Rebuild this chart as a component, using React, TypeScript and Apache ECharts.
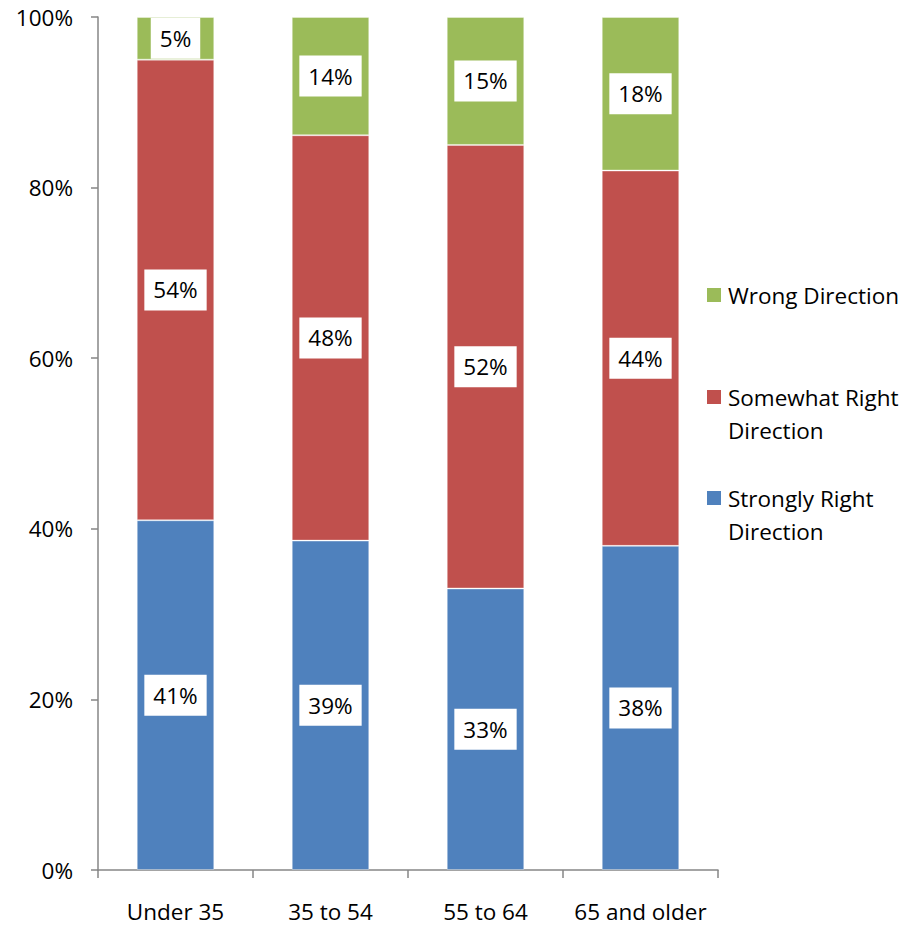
import React, { useEffect, useRef } from "react";
import * as echarts from "echarts";

const categories = ["Under 35", "35 to 54", "55 to 64", "65 and older"];
const strongly = [41, 39, 33, 38];
const somewhat = [54, 48, 52, 44];
const wrong = [5, 14, 15, 18];
const seriesNames = ["Strongly Right Direction", "Somewhat Right Direction", "Wrong Direction"];
const legendLabels = ["Strongly Right\nDirection", "Somewhat Right\nDirection", "Wrong Direction"];
const colors = ["#4F81BD", "#C0504D", "#9BBB59"];
const yTicks = { min: 0, max: 100, interval: 20 };

const FONT = "Open Sans";
const FS = 22.5;

export default function App() {
  const ref = useRef<HTMLDivElement>(null);
  useEffect(() => {
    if (!ref.current) return;
    const chart = echarts.init(ref.current, null, { renderer: "svg" });
    const raw = [strongly, somewhat, wrong];
    const totals = categories.map((_, i) => strongly[i] + somewhat[i] + wrong[i]);
    const series = raw.map((vals, s) => ({
      name: seriesNames[s],
      type: "bar",
      stack: "total",
      barWidth: "50%",
      data: vals.map((v, i) => (v / totals[i]) * 100),
      itemStyle: { color: colors[s], borderColor: "rgba(255,255,255,0.35)", borderWidth: 1 },
      label: {
        show: true,
        position: "inside",
        formatter: (p: any) => vals[p.dataIndex] + "%",
        color: "#000",
        fontFamily: FONT,
        fontSize: FS,
        lineHeight: 23,
        backgroundColor: "#fff",
        padding: [9, 9, 9, 9],
      },
    }));
    const legendItems: any[] = [];
    const legendY = [498, 397, 295];
    seriesNames.forEach((_, s) => {
      legendItems.push({
        type: "rect",
        shape: { x: 707, y: legendY[s] - 7, width: 14, height: 14 },
        style: { fill: colors[s] },
      });
      legendItems.push({
        type: "text",
        x: 728,
        y: legendY[s] - 16.5,
        style: {
          text: legendLabels[s],
          fontFamily: FONT,
          fontSize: FS,
          lineHeight: 33,
          fill: "#000",
          verticalAlign: "top",
        },
      });
    });
    chart.setOption({
      animation: false,
      grid: { left: 98, right: 199, top: 17, bottom: 55, containLabel: false },
      xAxis: {
        type: "category",
        data: categories,
        axisLine: { lineStyle: { color: "#868686", width: 1.5 } },
        axisTick: { show: true, interval: 0, length: 8, lineStyle: { color: "#868686", width: 1.5 } },
        axisLabel: {
          interval: 0,
          color: "#000",
          fontFamily: FONT,
          fontSize: FS,
          lineHeight: 22,
          margin: 30,
        },
      },
      yAxis: {
        type: "value",
        min: yTicks.min,
        max: yTicks.max,
        interval: yTicks.interval,
        splitLine: { show: false },
        axisLine: { show: true, lineStyle: { color: "#868686", width: 1.5 } },
        axisTick: { show: true, length: 7, lineStyle: { color: "#868686", width: 1.5 } },
        axisLabel: { color: "#000", fontFamily: FONT, fontSize: FS, margin: 25, formatter: "{value}%" },
      },
      graphic: legendItems,
      series,
    });
    return () => chart.dispose();
  }, []);
  return <div ref={ref} style={{ width: 917, height: 925, position: "absolute", left: 0, top: 0 }} />;
}
